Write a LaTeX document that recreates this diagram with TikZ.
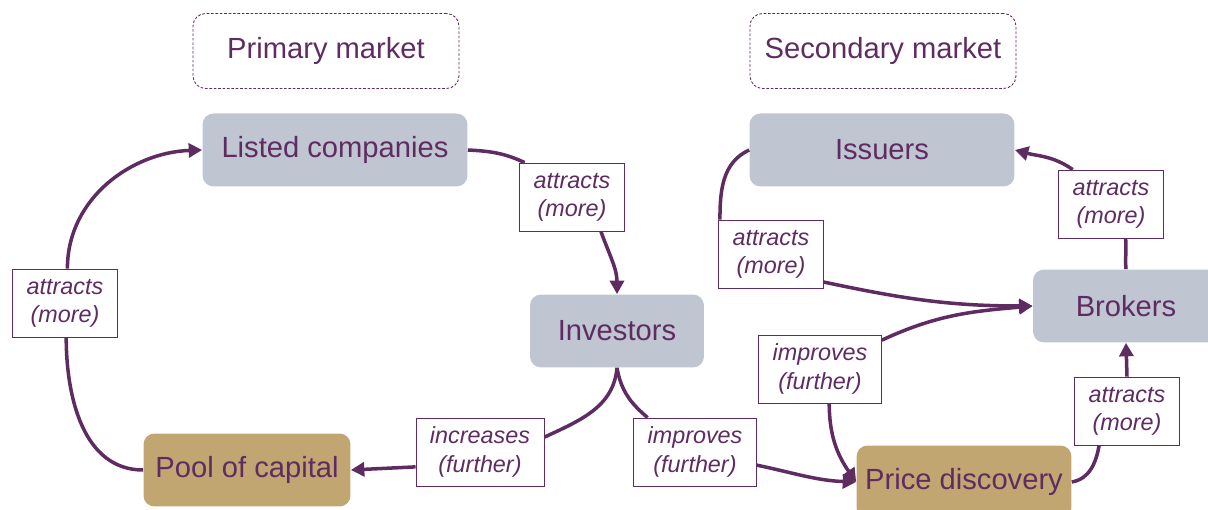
\documentclass[tikz,border=0pt]{standalone}
\usepackage{fontspec}
\setmainfont{Liberation Sans}
\usetikzlibrary{arrows.meta}
\definecolor{plum}{HTML}{5F2C62}
\definecolor{slate}{HTML}{BFC5D1}
\definecolor{sand}{HTML}{C1A672}
\tikzset{
	market/.style={draw=plum, dash pattern=on 1.5pt off 1pt, line width=0.5pt, rounded corners=0.25cm, minimum width=5.32cm, minimum height=1.5cm, text=plum, font=\fontsize{16.6}{20}\selectfont},
	actor/.style={fill=slate, rounded corners=0.22cm, minimum height=1.46cm, text=plum, font=\fontsize{16.6}{20}\selectfont},
	result/.style={actor, fill=sand},
	effect/.style={draw=plum, line width=0.5pt, fill=white, align=center, text=plum, font=\fontsize{13.3}{16}\selectfont\itshape, minimum height=1.36cm, inner xsep=0.28cm},
	link/.style={draw=plum, line width=2pt},
	linkto/.style={link, -{Triangle[length=0.27cm,width=0.28cm]}},
}

\begin{document}
\begin{tikzpicture}[x=0.02cm, y=0.02cm]
			%%%%% START %%%%%
			\useasboundingbox (0, 0) rectangle (1208, 510);
			
			\node[market] (prim) at (326, 459) {Primary market};
			\node[market] (sec) at (883, 459) {Secondary market};
			
			\node[actor, minimum width=5.3cm] (lc) at (335, 360) {Listed companies};
			\node[actor, minimum width=5.3cm] (iss) at (882, 360) {Issuers};
			\node[actor, minimum width=3.48cm] (inv) at (617, 179) {Investors};
			\node[actor, minimum width=3.72cm] (brk) at (1126, 204) {Brokers};
			\node[result, minimum width=4.14cm] (pool) at (247, 40) {Pool of capital};
			\node[result, minimum width=4.3cm] (pd) at (964, 28) {Price discovery};
			
			\node[effect] (a1) at (65, 207) {attracts\\(more)};
			\node[effect] (a2) at (572, 313) {attracts\\(more)};
			\node[effect] (inc) at (480, 58) {increases\\(further)};
			\node[effect] (impL) at (695, 58) {improves\\(further)};
			\node[effect] (impU) at (820, 141) {improves\\(further)};
			\node[effect] (a3) at (771, 256) {attracts\\(more)};
			\node[effect] (a4) at (1111, 306) {attracts\\(more)};
			\node[effect] (a5) at (1127, 99) {attracts\\(more)};
			
			% primary market loop
			\draw[link] (pool.west) to[out=180, in=-90] (a1.-88);
			\draw[linkto] (a1.86) to[out=90, in=182] (lc.west);
			\draw[link] (lc.east) to[out=-3, in=155] (a2.144);
			\draw[linkto] (a2.-50) to[out=-70, in=90] (inv.north);
			\draw[link] (inv.south) to[out=-95, in=25] (inc.13);
			\draw[linkto] (inc.-167) -- (pool.east);
			
			% secondary market loop
			\draw[link] (inv.south) to[out=-80, in=140] (impL.144);
			\draw[linkto] (impL.-12) to[out=-12, in=178] (pd.west);
			\draw[linkto] (impU.25) to[out=25, in=185] (brk.west);
			\draw[linkto] (impU.-75) to[out=-90, in=125] (pd.west);
			\draw[link] (iss.west) to[out=205, in=90] (a3.146);
			\draw[linkto] (a3.-28) to[out=-12, in=180] (brk.west);
			\draw[link] (pd.east) to[out=10, in=-100] (a5.-129);
			\draw[linkto] (a5.north) -- (brk.south);
			\draw[link] (brk.north) to[out=95, in=-85] (a4.-67);
			\draw[linkto] (a4.138) to[out=145, in=-15] (iss.east);
			%%%%% END %%%%%
\end{tikzpicture}
\end{document}
